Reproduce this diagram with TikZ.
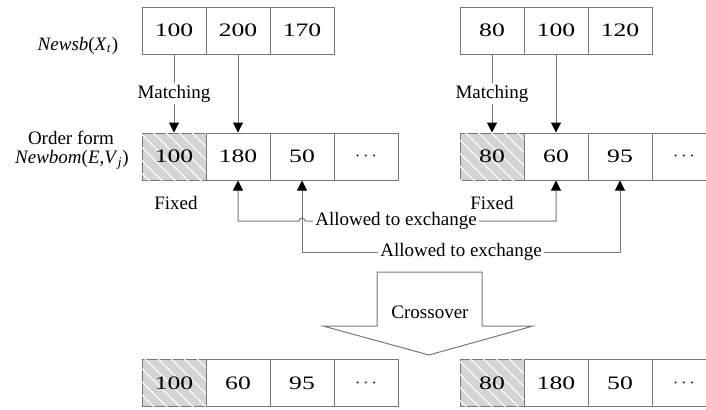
\documentclass[tikz,border=0pt]{standalone}
\usepackage{fontspec}
\setmainfont{Liberation Serif}
\newfontfamily\numfont[FakeStretch=1.35]{Liberation Serif}
\usetikzlibrary{arrows.meta,patterns.meta}

\definecolor{linegray}{RGB}{120,120,120}
\definecolor{hatchgray}{RGB}{212,212,212}

\begin{document}
\begin{tikzpicture}[x=0.5pt,y=-0.5pt,
		font=\fontsize{9.5}{11}\selectfont,
		cell/.style={draw=linegray, line width=0.5pt, minimum width=32pt, minimum height=23.5pt, inner sep=0pt, font={\numfont\fontsize{9.5}{11}\selectfont}},
		fixcell/.style={cell, fill=hatchgray, postaction={pattern={Lines[angle=-45, distance=4.6pt, line width=0.5pt]}, pattern color=white}},
		conn/.style={draw=linegray, line width=0.5pt, -{Triangle[length=5pt, width=5pt, black]}},
		exch/.style={conn, {Triangle[length=5pt, width=5pt, black]}-{Triangle[length=5pt, width=5pt, black]}},
		gap/.style={fill=white, inner sep=1pt}]
			\useasboundingbox (0,0) rectangle (706,409);
			% parents
			\node[cell] (a1) at (174,30.5) {100};
			\node[cell] (a2) at (238,30.5) {200};
			\node[cell] (a3) at (302,30.5) {170};
			\node[cell] (b1) at (492,30.5) {80};
			\node[cell] (b2) at (556,30.5) {100};
			\node[cell] (b3) at (620,30.5) {120};
			\node (nsb) at (78,46) {\textit{Newsb}(\textit{X}\textsubscript{\textit{t}})};
			% order forms
			\node[fixcell] (p1) at (174,156.5) {100};
			\node[cell] (p2) at (238,156.5) {180};
			\node[cell] (p3) at (302,156.5) {50};
			\node[cell] (p4) at (366,156.5) {$\cdots$};
			\node[fixcell] (q1) at (492,156.5) {80};
			\node[cell] (q2) at (556,156.5) {60};
			\node[cell] (q3) at (620,156.5) {95};
			\node[cell] (q4) at (684,156.5) {$\cdots$};
			\node[inner sep=0pt] (ordf) at (71,138) {Order form};
			\node[inner sep=0pt] (nbm) at (72,160) {\textit{Newbom}(\textit{E},\textit{V}\textsubscript{\textit{j}})};
			\node (fx1) at (176,203) {Fixed};
			\node (fx2) at (492,203) {Fixed};
			\draw[conn] (a1.south) -- node[gap] (m1) {Matching} (p1.north);
			\draw[conn] (a2.south) -- (p2.north);
			\draw[conn] (b1.south) -- node[gap] (m2) {Matching} (q1.north);
			\draw[conn] (b2.south) -- (q2.north);
			% exchange lines
			\coordinate (hop) at (299,221);
			\coordinate (low) at (0,252);
			\draw[exch] (p2.south) |- (hop) arc[start angle=180, end angle=0, radius=1.5pt] -| (q2.south);
			\node[gap] (ex1) at (396,221) {Allowed to exchange};
			\draw[exch] (p3.south) -- (p3.south |- low) -| node[gap, pos=0.25] (ex2) {Allowed to exchange} (q3.south);
			% crossover
			\draw[draw=linegray, line width=0.5pt] (377,272) -- (482,272) -- (482,326) -- (533,326) -- (429,355) -- (323,326) -- (377,326) -- cycle;
			\node (cross) at (430,312) {Crossover};
			% offspring
			\node[fixcell] (c1) at (174,383) {100};
			\node[cell] (c2) at (238,383) {60};
			\node[cell] (c3) at (302,383) {95};
			\node[cell] (c4) at (366,383) {$\cdots$};
			\node[fixcell] (d1) at (492,383) {80};
			\node[cell] (d2) at (556,383) {180};
			\node[cell] (d3) at (620,383) {50};
			\node[cell] (d4) at (684,383) {$\cdots$};
		\end{tikzpicture}
\end{document}
